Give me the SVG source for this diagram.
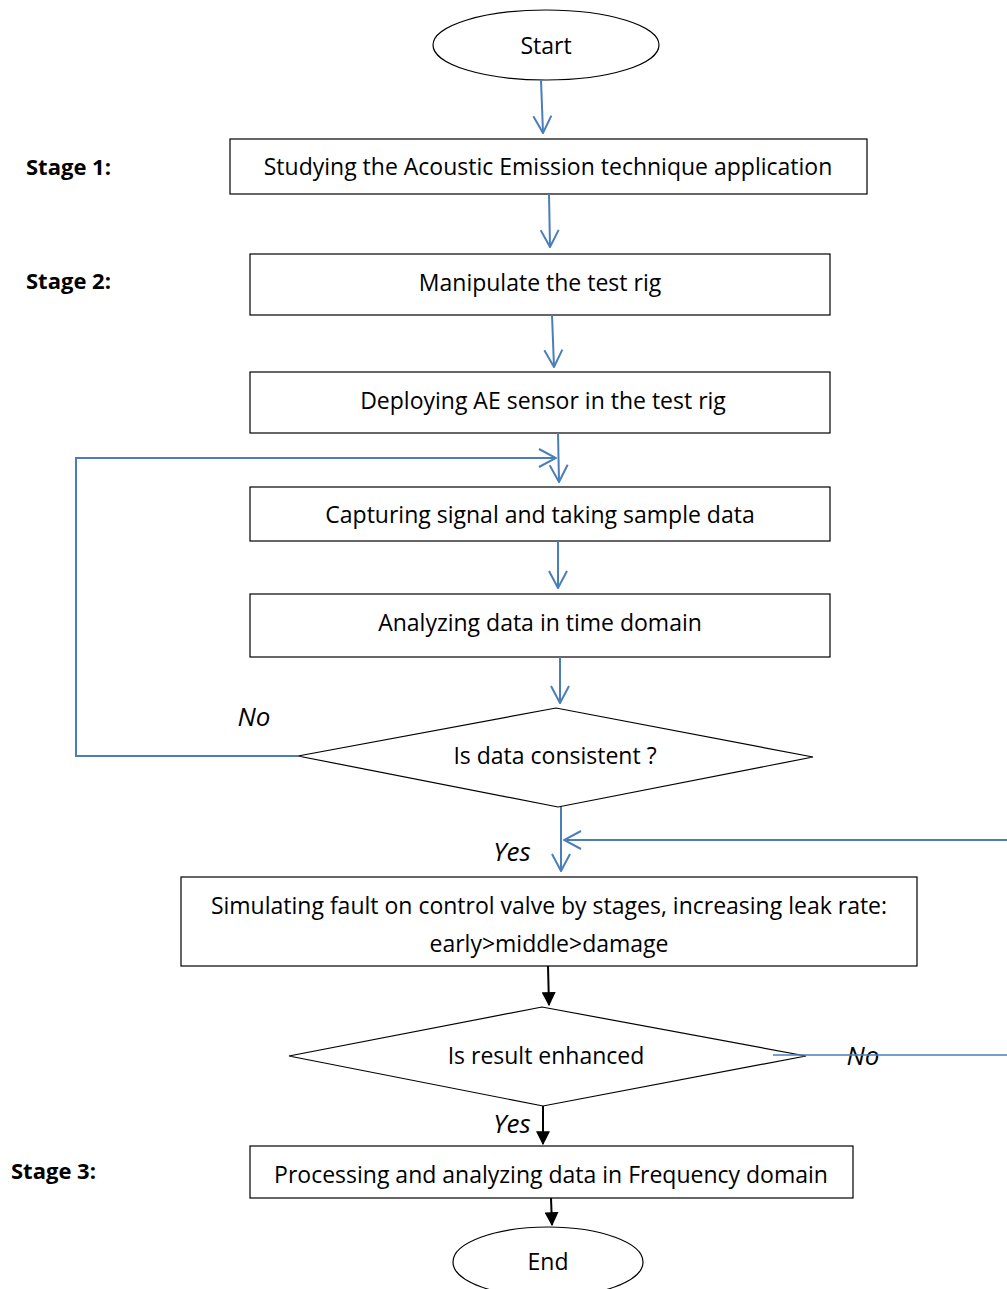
<svg xmlns="http://www.w3.org/2000/svg" width="1007" height="1289" viewBox="0 0 1007 1289">
<defs>
<style>
.shape{fill:#fff;stroke:#000;stroke-width:1.2}
.t{font-family:"Open Sans","Liberation Sans",sans-serif;font-size:23px;fill:#000;text-anchor:middle;dominant-baseline:central}
.lbl{font-family:"Open Sans","Liberation Sans",sans-serif;font-size:26px;font-style:italic;fill:#000;text-anchor:middle;dominant-baseline:central}
.stage{font-family:"Open Sans","Liberation Sans",sans-serif;font-size:22px;font-weight:bold;fill:#000;dominant-baseline:central}
.blue{fill:none;stroke:#4a7ebb;stroke-width:2}
.black{fill:none;stroke:#000;stroke-width:2}
</style>
<marker id="open2" viewBox="0 0 20 20" refX="19" refY="10" markerWidth="20" markerHeight="20" markerUnits="userSpaceOnUse" orient="auto">
<path d="M2,1 L19,10 L2,19" fill="none" stroke="#4a7ebb" stroke-width="2"/>
</marker>
<marker id="solid" viewBox="0 0 12 12" refX="11" refY="6" markerWidth="14" markerHeight="14" markerUnits="userSpaceOnUse" orient="auto">
<path d="M0,0 L12,6 L0,12 Z" fill="#000"/>
</marker>
</defs>
<rect width="1007" height="1289" fill="#fff"/>

<g id="stage-labels">
<text class="stage" x="26" y="166">Stage 1:</text>
<text class="stage" x="26" y="280">Stage 2:</text>
<text class="stage" x="11" y="1170">Stage 3:</text>
</g>

<g id="start"><ellipse class="shape" cx="546" cy="45" rx="113" ry="35"/><text class="t" x="546" y="45">Start</text></g>
<g id="box1"><rect class="shape" x="230" y="139" width="637" height="55"/><text class="t" x="548" y="166">Studying the Acoustic Emission technique application</text></g>
<g id="box2"><rect class="shape" x="250" y="254" width="580" height="61"/><text class="t" x="540" y="282">Manipulate the test rig</text></g>
<g id="box3"><rect class="shape" x="250" y="372" width="580" height="61"/><text class="t" x="543" y="400">Deploying AE sensor in the test rig</text></g>
<g id="box4"><rect class="shape" x="250" y="487" width="580" height="54"/><text class="t" x="540" y="514">Capturing signal and taking sample data</text></g>
<g id="box5"><rect class="shape" x="250" y="594" width="580" height="63"/><text class="t" x="540" y="622">Analyzing data in time domain</text></g>
<g id="dec1"><polygon class="shape" points="298,756 556,708 813,757 558,807"/><text class="t" x="555" y="755">Is data consistent ?</text></g>
<g id="box6"><rect class="shape" x="181" y="877" width="736" height="89"/><text class="t" x="549" y="905">Simulating fault on control valve by stages, increasing leak rate:</text><text class="t" x="549" y="943">early&gt;middle&gt;damage</text></g>
<g id="dec2"><polygon class="shape" points="289,1056 542,1007 806,1056 543,1106"/><text class="t" x="546" y="1055">Is result enhanced</text></g>
<g id="box7"><rect class="shape" x="250" y="1146" width="603" height="52"/><text class="t" x="551" y="1174">Processing and analyzing data in Frequency domain</text></g>
<g id="end"><ellipse class="shape" cx="548" cy="1262" rx="95" ry="35"/><text class="t" x="548" y="1261">End</text></g>

<g id="connectors">
<path class="blue" d="M541,80 L543,133" marker-end="url(#open2)"/>
<path class="blue" d="M549,194 L550,247" marker-end="url(#open2)"/>
<path class="blue" d="M552,315 L554,367" marker-end="url(#open2)"/>
<path class="blue" d="M558,433 L559,482" marker-end="url(#open2)"/>
<path class="blue" d="M298,756 L76,756 L76,458 L556,458" marker-end="url(#open2)"/>
<path class="blue" d="M558,541 L558,588" marker-end="url(#open2)"/>
<path class="blue" d="M560,657 L560,703" marker-end="url(#open2)"/>
<path class="blue" d="M561,807 L561,871" marker-end="url(#open2)"/>
<path class="blue" d="M1007,840 L564,840" marker-end="url(#open2)"/>
<path class="black" d="M548,966 L549,1005" marker-end="url(#solid)"/>
<path class="black" d="M543,1106 L543,1144" marker-end="url(#solid)"/>
<path class="black" d="M551,1198 L552,1225" marker-end="url(#solid)"/>
<text class="lbl" x="254" y="716">No</text>
<text class="lbl" x="512" y="851">Yes</text>
<text class="lbl" x="863" y="1055">No</text>
<text class="lbl" x="512" y="1123">Yes</text>
<path d="M773,1055 L1007,1055" fill="none" stroke="#4a7ebb" stroke-width="1.5"/>
</g>
</svg>
